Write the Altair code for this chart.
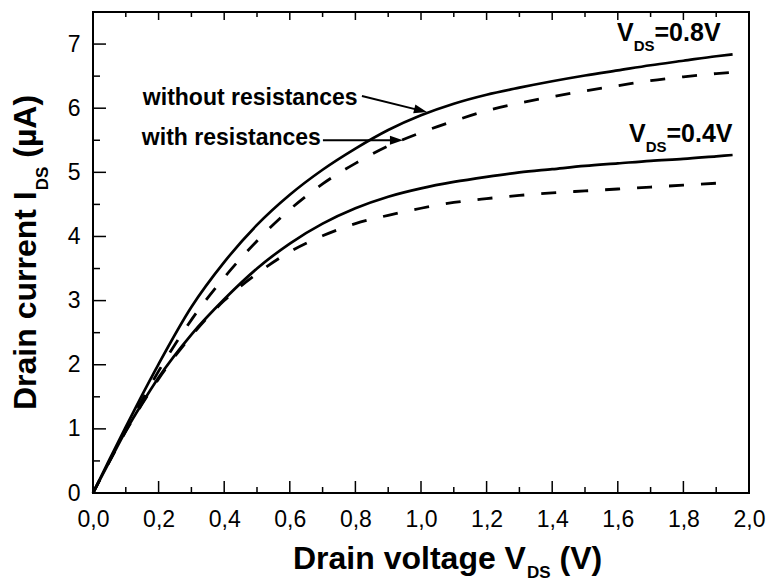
import altair as alt
import pandas as pd

# ---------------- data ----------------
V = [0, 0.05, 0.1, 0.15, 0.2, 0.3, 0.4, 0.5, 0.6, 0.7, 0.8, 0.9, 1.0,
     1.1, 1.2, 1.3, 1.4, 1.5, 1.6, 1.7, 1.8, 1.9, 1.95]
I_08_noR = [0, 0.52, 1.03, 1.53, 2.01, 2.90, 3.60, 4.18, 4.65, 5.04, 5.37, 5.66, 5.89,
            6.07, 6.21, 6.32, 6.42, 6.51, 6.59, 6.67, 6.74, 6.81, 6.84]
I_08_R = [0, 0.50, 0.98, 1.45, 1.90, 2.70, 3.36, 3.93, 4.42, 4.82, 5.14, 5.41, 5.62,
          5.80, 5.96, 6.08, 6.18, 6.27, 6.35, 6.43, 6.49, 6.54, 6.56]
I_04_noR = [0, 0.49, 0.97, 1.40, 1.80, 2.47, 3.02, 3.50, 3.89, 4.20, 4.44, 4.62, 4.75,
            4.85, 4.93, 5.00, 5.05, 5.10, 5.14, 5.18, 5.21, 5.25, 5.27]
I_04_R = [0, 0.49, 0.96, 1.39, 1.78, 2.45, 3.00, 3.42, 3.76, 4.01, 4.20, 4.33, 4.44,
          4.53, 4.59, 4.64, 4.68, 4.71, 4.74, 4.77, 4.80, 4.83, 4.84]

x_major = [0.0, 0.2, 0.4, 0.6, 0.8, 1.0, 1.2, 1.4, 1.6, 1.8, 2.0]
x_minor = [0.1, 0.3, 0.5, 0.7, 0.9, 1.1, 1.3, 1.5, 1.7, 1.9]
y_major = [0, 1, 2, 3, 4, 5, 6, 7]
y_minor = [0.5, 1.5, 2.5, 3.5, 4.5, 5.5, 6.5]

vds_labels = ["=0.8V", "=0.4V"]
vds_x = [1.5976, 1.634]
vds_y = [7.048, 5.475]

note_text = ["without resistances", "with resistances"]
note_x = [0.152, 0.149]
note_y = [6.05, 5.43]

arrow_x = [0.820, 0.701]
arrow_y = [6.19, 5.50]
arrow_x2 = [0.994, 0.921]
arrow_y2 = [5.970, 5.50]
tip_x = [1.018, 0.945]
tip_y = [5.94, 5.50]
tip_angle = [13.8, 0]

# ---------------- styling helpers ----------------
W, H = 656, 481
FONT = "Liberation Sans"
BOLD_W = {' ': 278, '(': 333, ')': 333, '.': 278, '=': 584, '0': 556, '4': 556,
          '8': 556, 'A': 722, 'D': 722, 'I': 278, 'S': 667, 'V': 667, 'a': 556,
          'c': 556, 'e': 556, 'g': 611, 'h': 611, 'i': 278, 'l': 278, 'n': 611,
          'o': 611, 'r': 389, 's': 556, 't': 333, 'u': 611, 'v': 556, 'w': 778,
          'µ': 611}


def tw(s, size):
    return sum(BOLD_W.get(c, 600) for c in s) * size / 1000.0


xs = alt.Scale(domain=[0, 2.0], nice=False, zero=False)
ys = alt.Scale(domain=[0, 7.5], nice=False, zero=False)

x_axis = alt.Axis(values=x_major,
                  labelExpr="replace(format(datum.value, '.1f'), '.', ',')",
                  ticks=False, domain=False, grid=False, title=None,
                  labelFont=FONT, labelFontSize=23, labelColor="black",
                  labelPadding=15, labelFlush=False, labelOverlap=False)
y_axis = alt.Axis(values=y_major, format="d", ticks=False, domain=False,
                  grid=False, title=None, labelFont=FONT, labelFontSize=23,
                  labelColor="black", labelPadding=13)


def X(field):
    return alt.X(field, scale=xs, axis=x_axis)


def Y(field):
    return alt.Y(field, scale=ys, axis=y_axis)


def long(series):
    rows = []
    for name, vals in series.items():
        for v, i in zip(V, vals):
            rows.append({"V": v, "I": i, "curve": name})
    return pd.DataFrame(rows)


solid_df = long({"0.8": I_08_noR, "0.4": I_04_noR})
dash_df = long({"0.8": I_08_R, "0.4": I_04_R})

solid = alt.Chart(solid_df).mark_line(
    color="black", strokeWidth=2.7, interpolate="monotone"
).encode(x=X("V:Q"), y=Y("I:Q"), detail="curve:N")

dashed = alt.Chart(dash_df).mark_line(
    color="black", strokeWidth=2.8, interpolate="monotone", strokeDash=[15, 17]
).encode(x=X("V:Q"), y=Y("I:Q"), detail="curve:N")


def xticks(vals, y0, y1):
    return alt.Chart(pd.DataFrame({"v": vals})).mark_rule(
        color="black", strokeWidth=1.5
    ).encode(x=X("v:Q"), y=alt.value(y0), y2=alt.value(y1))


def yticks(vals, length):
    return alt.Chart(pd.DataFrame({"v": vals})).mark_rule(
        color="black", strokeWidth=1.5
    ).encode(y=Y("v:Q"), x=alt.value(0), x2=alt.value(length))


ticks = [
    xticks(x_major, H, H - 12), xticks(x_minor, H, H - 6),
    xticks(x_major, 0, 8), xticks(x_minor, 0, 5),
    yticks(y_major, 13), yticks(y_minor, 7),
]


def ptext(txt, x, y, size, angle=0):
    return alt.Chart(pd.DataFrame({"t": [txt]})).mark_text(
        font=FONT, fontWeight="bold", fontSize=size, align="left",
        baseline="alphabetic", color="black", angle=angle
    ).encode(x=alt.value(x), y=alt.value(y), text="t:N")


# x-axis title: Drain voltage V_DS (V)
TF, SF = 32, 17
xt0, xb = 200, 557
p1 = "Drain voltage V"
xs1 = xt0 + tw(p1, TF) + 1
xs2 = xs1 + tw("DS", SF) + tw(" ", TF)
x_title = [
    ptext(p1, xt0, xb, TF),
    ptext("DS", xs1, xb + 9, SF),
    ptext("(V)", xs2, xb, TF),
]

# y-axis title: Drain current I_DS (µA)  (rotated)
q1 = "Drain current I"
yb, yt0 = -57, 398
ys1 = yt0 - tw(q1, TF) - 1
ys2 = ys1 - tw("DS", SF) - tw(" ", TF)
y_title = [
    ptext(q1, yb, yt0, TF, 270),
    ptext("DS", yb + 12, ys1, SF, 270),
    ptext("(µA)", yb, ys2, TF, 270),
]

# V_DS labels
AF, ASF = 25, 15
vds_df = pd.DataFrame({"x": vds_x, "y": vds_y, "main": ["V", "V"],
                       "sub": ["DS", "DS"], "rest": vds_labels})


def vds_layer(field, size, dx, dy):
    return alt.Chart(vds_df).mark_text(
        font=FONT, fontWeight="bold", fontSize=size, align="left",
        baseline="alphabetic", color="black", dx=dx, dy=dy
    ).encode(x=X("x:Q"), y=Y("y:Q"), text=f"{field}:N")


vds = [
    vds_layer("main", AF, 0, 0),
    vds_layer("sub", ASF, tw("V", AF), 10),
    vds_layer("rest", AF, tw("V", AF) + tw("DS", ASF), 0),
]

notes = alt.Chart(pd.DataFrame({"x": note_x, "y": note_y, "t": note_text})).mark_text(
    font=FONT, fontWeight="bold", fontSize=23, align="left",
    baseline="alphabetic", color="black"
).encode(x=X("x:Q"), y=Y("y:Q"), text="t:N")

arrow_df = pd.DataFrame({"x": arrow_x, "y": arrow_y, "x2": arrow_x2, "y2": arrow_y2,
                         "tx": tip_x, "ty": tip_y, "ang": tip_angle})
arrow_lines = alt.Chart(arrow_df).mark_rule(color="black", strokeWidth=2).encode(
    x=X("x:Q"), y=Y("y:Q"), x2="x2:Q", y2="y2:Q")
arrow_heads = alt.Chart(arrow_df).mark_point(
    shape="M0,0 L-1,-0.35 L-1,0.35 Z", filled=True, color="black",
    size=676, opacity=1, strokeWidth=0
).encode(x=X("tx:Q"), y=Y("ty:Q"), angle=alt.Angle("ang:Q", scale=None))

chart = alt.layer(
    solid, dashed, *ticks, *x_title, *y_title, *vds, notes, arrow_lines, arrow_heads
).properties(
    width=W, height=H,
    padding={"left": 93, "top": 12, "right": 19, "bottom": 88},
    autosize=alt.AutoSizeParams(type="none"),
    background="white",
).configure_view(stroke="black", strokeWidth=2)

chart.save("out.html", embed_options={"renderer": "svg", "actions": False})
